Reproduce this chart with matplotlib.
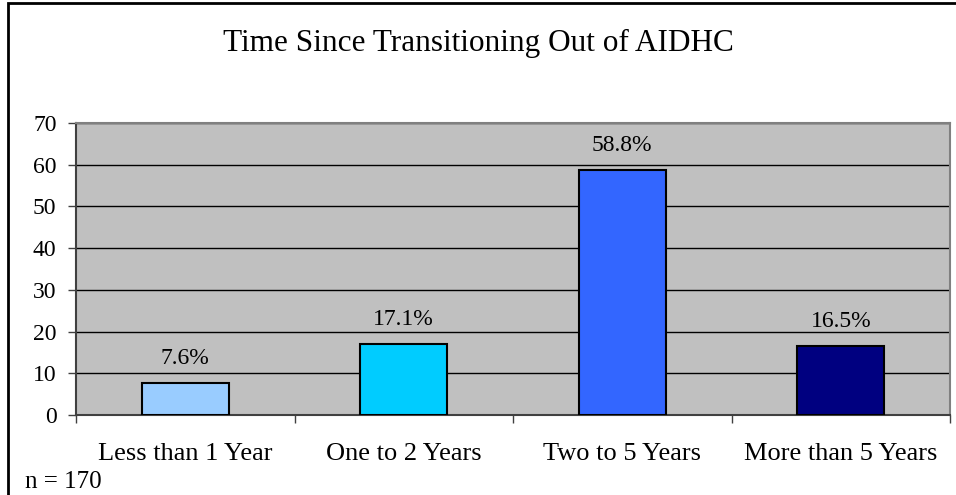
import matplotlib
matplotlib.use("Agg")
import matplotlib.pyplot as plt
from matplotlib.patches import Rectangle
from matplotlib.ticker import FixedLocator

categories = ["Less than 1 Year", "One to 2 Years", "Two to 5 Years", "More than 5 Years"]
values = [7.6, 17.1, 58.8, 16.5]
bar_colors = ["#99CCFF", "#00CCFF", "#3366FF", "#000080"]
y_ticks = [0, 10, 20, 30, 40, 50, 60, 70]

plt.rcParams["font.family"] = ["Liberation Serif", "DejaVu Serif"]

fig = plt.figure(figsize=(9.56, 4.95), dpi=100)
ax = fig.add_axes([76 / 956, 1 - 415 / 495, 874 / 956, 292 / 495])
ax.set_facecolor("#C0C0C0")

x = list(range(len(categories)))
bars = ax.bar(x, values, width=0.40, color=bar_colors, edgecolor="black",
              linewidth=1.5, zorder=3)

for b, v in zip(bars, values):
    ax.annotate(f"{v:.1f}%", (b.get_x() + b.get_width() / 2, v),
                xytext=(0, 10), textcoords="offset points",
                ha="center", va="bottom", fontsize=17, zorder=4)

ax.set_xlim(-0.5, len(categories) - 0.5)
ax.set_ylim(0, 70)
ax.set_yticks(y_ticks)
ax.set_yticklabels([str(t) for t in y_ticks], fontsize=17)
ax.yaxis.grid(True, color="black", linewidth=1, zorder=1)
ax.set_axisbelow(True)

ax.set_xticks(x)
ax.set_xticklabels(categories, fontsize=19)
ax.tick_params(axis="x", which="major", length=0, pad=20)
ax.xaxis.set_minor_locator(FixedLocator([i - 0.5 for i in range(len(categories) + 1)]))
ax.tick_params(axis="x", which="minor", length=6, width=1, color="#404040")
ax.tick_params(axis="y", length=6, width=1, color="#404040", pad=8)

ax.spines["top"].set_color("#808080")
ax.spines["right"].set_color("#808080")
ax.spines["left"].set_color("#404040")
ax.spines["bottom"].set_color("#404040")
for s in ax.spines.values():
    s.set_linewidth(1.5)

fig.text(0.5, 1 - 43 / 495, "Time Since Transitioning Out of AIDHC",
         ha="center", va="center", fontsize=22.5)
fig.text(25 / 956, 1 - 482 / 495, "n = 170", ha="left", va="center", fontsize=18)

# Chart frame
frame = Rectangle((8 / 956, -0.1), 1.2, 1 - 3 / 495 + 0.1, transform=fig.transFigure,
                  fill=False, edgecolor="black", linewidth=2, clip_on=False)
fig.patches.append(frame)

fig.savefig("out.png", dpi=100)
